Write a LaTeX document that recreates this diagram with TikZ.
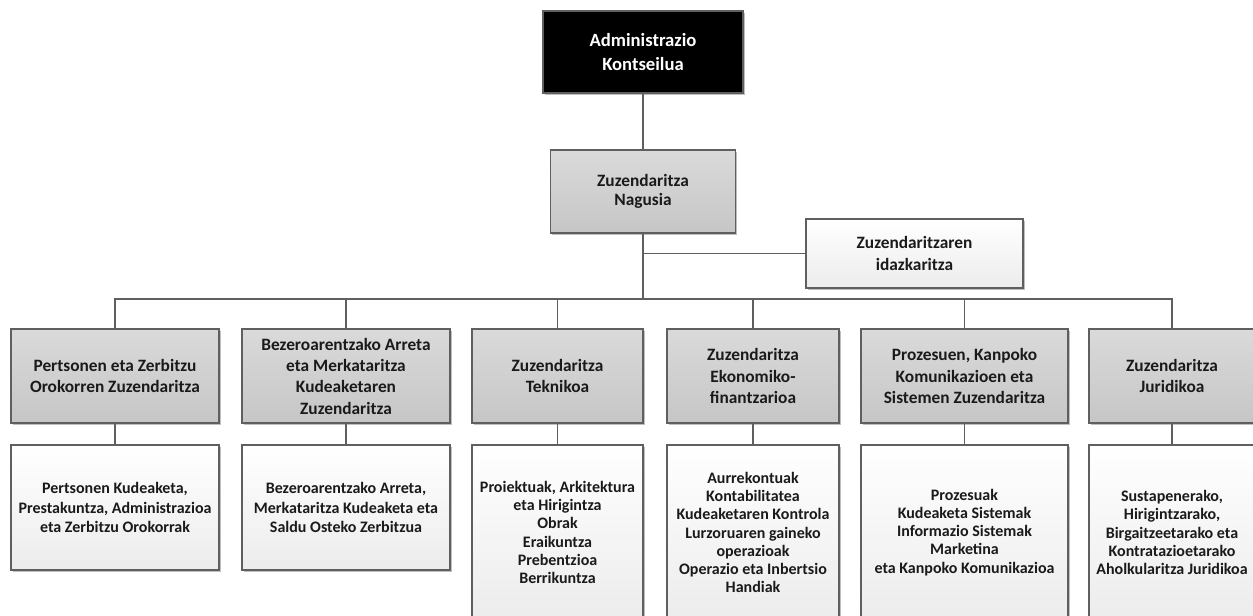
\documentclass[tikz,border=0pt]{standalone}
\usepackage{fontspec}
\setmainfont{Carlito}
\usetikzlibrary{shadows}
\definecolor{OrgLine}{HTML}{5F5F5F}
\definecolor{OrgGreyTop}{HTML}{DADADA}
\definecolor{OrgGreyBot}{HTML}{C6C6C6}
\definecolor{OrgWhiteBot}{HTML}{ECECEC}
\definecolor{OrgText}{HTML}{1A1A1A}
\tikzset{
  unit/.style={draw=OrgLine, line width=0.8pt, rectangle, inner sep=2pt, align=center, text=OrgText,
    drop shadow={shadow xshift=1.3pt, shadow yshift=-1.3pt, fill=black, opacity=0.25}},
  board/.style={unit, fill=black, text=white, font=\fontsize{14}{18}\selectfont\bfseries},
  dept/.style={unit, top color=OrgGreyTop, bottom color=OrgGreyBot, font=\fontsize{13}{16}\selectfont\bfseries},
  staff/.style={unit, top color=white, bottom color=OrgWhiteBot, font=\fontsize{13}{16}\selectfont\bfseries},
  area/.style={unit, top color=white, bottom color=OrgWhiteBot, font=\fontsize{12}{13.6}\selectfont\bfseries},
  link/.style={draw=OrgLine, line width=0.8pt},
}
\newcommand{\drawdept}{\node[dept, minimum height=70.5pt]}
\newcommand{\drawarea}{\node[area]}

\begin{document}
\begin{tikzpicture}[x=0.75pt, y=-0.75pt]
\useasboundingbox (0,0) rectangle (1253,616);
\clip (0,0) rectangle (1253,616);
%head of the chart
\node[board, minimum width=150pt, minimum height=61.5pt] (board) at (643,52) {Administrazio\\Kontseilua};
\node[dept, minimum width=138.75pt, minimum height=62.25pt, font=\fontsize{13}{14.5}\selectfont\bfseries] (nagusia) at (643,191.5) {Zuzendaritza\\Nagusia};
\node[staff, minimum width=162.75pt, minimum height=51.75pt] (idazk) at (914.5,253.5) {Zuzendaritzaren\\idazkaritza};

%directorates
\drawdept[minimum width=156pt] (pertsonen) at (115,376) {Pertsonen eta Zerbitzu\\Orokorren Zuzendaritza};
\drawdept[minimum width=156pt] (bezero) at (346,376) {Bezeroarentzako Arreta\\eta Merkataritza\\Kudeaketaren\\Zuzendaritza};
\drawdept[minimum width=128.25pt] (teknikoa) at (557.5,376) {Zuzendaritza\\Teknikoa};
\drawdept[minimum width=129pt] (ekonomiko) at (753,376) {Zuzendaritza\\Ekonomiko-\\finantzarioa};
\drawdept[minimum width=155.25pt] (prozesu) at (964.5,376) {Prozesuen, Kanpoko\\Komunikazioen eta\\Sistemen Zuzendaritza};
\drawdept[minimum width=124.5pt] (juridiko) at (1172,376) {Zuzendaritza\\Juridikoa};

%areas under each directorate
\drawarea[minimum width=156pt, minimum height=93.75pt, font=\fontsize{12}{14.6}\selectfont\bfseries] (pertsonenA) at (115,507.5) {Pertsonen Kudeaketa,\\Prestakuntza, Administrazioa\\eta Zerbitzu Orokorrak};
\drawarea[minimum width=156pt, minimum height=93.75pt, font=\fontsize{12}{14.6}\selectfont\bfseries] (bezeroA) at (346,507.5) {Bezeroarentzako Arreta,\\Merkataritza Kudeaketa eta\\Saldu Osteko Zerbitzua};
\drawarea[minimum width=128.25pt, minimum height=131.25pt] (teknikoaA) at (557.5,532.5) {Proiektuak, Arkitektura\\eta Hirigintza\\Obrak\\Eraikuntza\\Prebentzioa\\Berrikuntza};
\drawarea[minimum width=129pt, minimum height=131.25pt] (ekonomikoA) at (753,532.5) {Aurrekontuak\\Kontabilitatea\\Kudeaketaren Kontrola\\Lurzoruaren gaineko\\operazioak\\Operazio eta Inbertsio\\Handiak};
\drawarea[minimum width=155.25pt, minimum height=131.25pt] (prozesuA) at (964.5,532.5) {Prozesuak\\Kudeaketa Sistemak\\Informazio Sistemak\\Marketina\\eta Kanpoko Komunikazioa};
\drawarea[minimum width=124.5pt, minimum height=131.25pt] (juridikoA) at (1172,532.5) {Sustapenerako,\\Hirigintzarako,\\Birgaitzeetarako eta\\Kontratazioetarako\\Aholkularitza Juridikoa};

\coordinate (bus) at (nagusia.south |- 0,299);
\coordinate (side) at (nagusia.south |- idazk.west);
\draw[link] (board) -- (nagusia);
\draw[link] (nagusia) -- (bus);
\draw[link] (side) -- (idazk);
\foreach \d in {pertsonen,bezero,teknikoa,ekonomiko,prozesu,juridiko} {
  \draw[link] (bus) -| (\d.north);
  \draw[link] (\d) -- (\d A);
}

\end{tikzpicture}
\end{document}
